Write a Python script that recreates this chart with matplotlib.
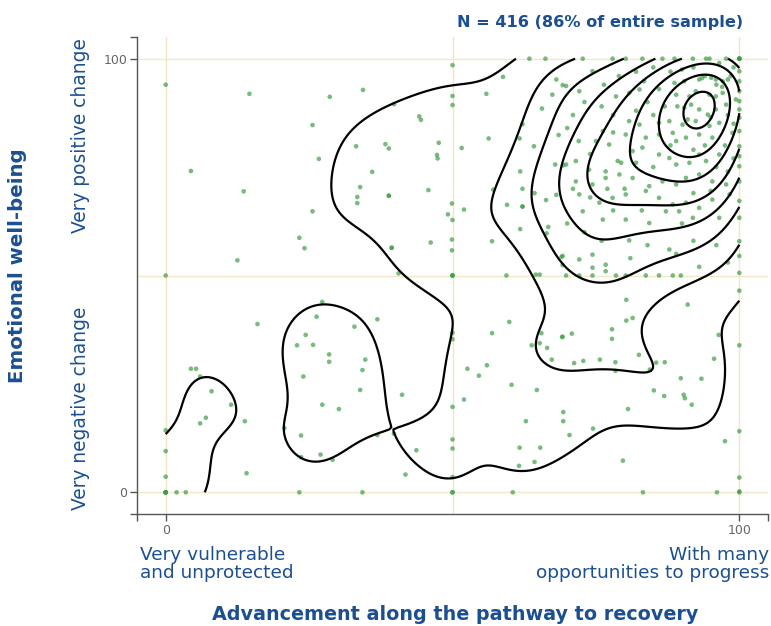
import numpy as np
import matplotlib
matplotlib.use("Agg")
import matplotlib.pyplot as plt

# ---------------- data (x = advancement, y = emotional well-being) ----------
upper_left = [(0, 94), (14.6, 91.9), (28.6, 91.2), (25.6, 84.7), (26.7, 76.9), (4.4, 74.1),
              (13.6, 69.4), (25.6, 64.8), (23.3, 58.7), (24.2, 56.3), (12.5, 53.5), (0, 50)]

upper_mid = [(50, 98.5), (34.4, 92.8), (58.8, 95.8), (55.9, 91.9), (50, 91.4), (50, 89.3),
             (39.8, 89.5), (44.2, 86.7), (44.5, 85.9), (33.2, 79.8), (38.3, 80.3), (38.9, 79.3),
             (47.6, 80.6), (51.6, 79.4), (47.3, 77.8), (47.4, 77.0), (56.3, 81.6), (36.0, 73.9),
             (33.9, 70.4), (33.4, 68.1), (33.4, 66.7), (38.9, 68.4), (38.9, 68.4), (45.8, 69.7),
             (57.1, 69.8), (49.9, 66.6), (52.0, 65.2), (49.2, 64.1), (50, 62.8), (59.5, 66.3),
             (62.2, 65.9), (62.2, 65.9), (61.8, 60.7), (56.9, 57.9), (46.2, 57.6), (39.4, 56.4),
             (39.4, 56.4), (49.9, 58.3), (49.9, 55.8), (40.6, 50.5), (50, 50), (50, 50), (50, 50),
             (59.4, 50), (64.5, 50.2), (65.2, 50.2), (63.4, 100), (66.2, 100), (68.1, 95.2),
             (69.2, 93.9), (67.4, 91.7), (65.6, 88.5), (62.2, 84.9), (61.7, 81.6), (64.2, 79.8),
             (68.5, 82.4), (61.8, 74.0), (62.2, 70.0), (64.3, 69.0), (67.9, 75.6), (69.3, 75.4),
             (68.1, 68.6), (66.3, 67.4), (66.7, 61.2), (66.4, 59.7), (69.0, 54.3), (69.2, 52.4)]

upper_right = [(72.7, 100), (77.9, 100), (80.2, 100), (83.1, 100), (86.6, 100), (88.7, 100),
               (91.9, 100), (94.2, 100), (94.8, 100), (97.7, 100), (100, 100), (100, 100),
               (100, 100), (100, 100),
               (69.8, 93.7), (72.1, 92.5), (74.4, 97.1), (76.4, 94.0), (78.5, 91.3), (80.8, 92.1),
               (82.6, 92.9), (83.4, 94.8), (88.7, 94.4), (90.4, 94.8), (93.0, 95.2), (95.1, 95.6),
               (95.9, 95.2), (97.1, 94.8), (98.0, 95.2), (89.0, 91.7), (91.3, 91.3), (92.4, 92.5),
               (94.8, 91.7), (95.9, 91.3), (97.1, 92.1), (89.2, 89.0), (90.4, 88.7), (91.6, 89.4),
               (93.0, 88.3), (94.5, 87.1), (95.9, 88.3), (97.7, 89.4), (99.4, 90.6), (100, 88.3),
               (100, 86.4), (80.8, 85.6), (82.6, 84.8), (86.0, 85.2), (87.8, 85.6), (90.1, 84.8),
               (92.4, 85.6), (94.8, 84.5), (96.5, 85.2), (80.2, 82.5), (83.7, 81.8), (86.0, 82.5),
               (88.4, 82.9), (89.0, 81.0), (90.7, 81.8), (93.0, 82.5), (95.3, 81.8), (98.8, 82.9),
               (100, 83.3), (76.2, 83.3), (75.0, 81.0), (77.3, 80.2), (78.8, 76.4), (79.4, 76.0),
               (81.4, 78.7), (83.1, 79.5), (86.0, 77.9), (87.8, 77.1), (89.0, 75.6), (91.3, 76.0),
               (93.0, 77.9), (94.2, 76.4), (96.5, 77.9), (100, 79.8), (100, 75.2), (69.8, 75.6),
               (71.5, 76.4), (73.8, 74.4), (76.7, 74.0), (71.5, 71.7), (74.4, 71.0), (76.7, 72.5),
               (79.1, 73.3), (81.4, 72.5), (84.3, 70.6), (86.6, 71.7), (89.0, 71.0), (90.7, 72.5),
               (93.0, 73.3), (95.3, 71.7), (97.7, 71.0), (100, 71.7), (72.1, 68.7), (75.6, 66.8),
               (77.9, 67.9), (80.2, 68.7), (83.7, 69.5), (86.0, 67.9), (88.4, 66.4), (90.7, 66.8),
               (93.0, 65.6), (95.3, 67.5), (98.3, 68.7), (100, 67.2), (72.7, 64.8), (76.2, 62.9),
               (80.2, 62.9), (84.3, 62.1), (87.2, 64.8), (89.5, 64.8), (91.9, 63.3), (96.5, 63.3),
               (100, 63.3), (80.8, 58.1), (87.8, 56.0), (100, 57.9), (69.2, 54.5), (72.1, 53.7),
               (74.4, 54.8), (76.7, 52.5), (74.4, 51.8), (69.8, 50), (72.1, 50), (74.4, 50),
               (76.7, 51), (78.5, 50), (80.2, 50), (83.7, 50), (86.0, 50), (88.4, 50), (89.8, 50),
               (100, 50.6), (100, 54.5), (100, 97.1), (100, 94.8), (100, 92.5), (100, 90.2),
               (100, 77.5)]

upper_right_dense = [(93.5, 95.5), (96, 94), (97, 93.5), (94, 96), (98.5, 96), (99, 98),
                     (96.5, 99), (92, 98), (85, 98), (88, 97), (90, 97.5), (82, 97), (79, 96),
                     (86, 93), (84, 90), (87, 89), (82, 88), (78, 87), (76, 89), (73, 90),
                     (71, 87), (70, 84), (72, 81), (74, 78), (78, 83), (85, 87), (91, 86),
                     (95, 86.5), (98, 87), (99, 85), (97.5, 80), (99, 77), (98, 74), (96, 75),
                     (92, 79), (94, 80), (88, 80), (85, 75), (82, 76), (80, 70), (77, 70),
                     (74, 68), (71, 70), (92, 69), (95, 69.5), (90, 62), (83, 65), (78, 65),
                     (73, 60), (70, 62), (76, 58), (84, 57), (92, 58), (96, 57), (98, 53),
                     (93, 52), (89, 55), (81, 54)]

lower_left = [(27.3, 43.9), (26.3, 40.5), (16.0, 38.8), (24.4, 36.3), (22.9, 33.9), (25.7, 34.0),
              (28.5, 31.8), (28.5, 30.1), (4.4, 28.5), (5.3, 28.5), (6.0, 26.7), (24.0, 26.7),
              (8.0, 23.3), (11.4, 20.2), (27.3, 20.2), (30.2, 19.2), (7.0, 17.2), (6.0, 15.9),
              (13.8, 16.4), (20.7, 14.8), (23.6, 13.1), (0, 14.3), (0, 9.5), (0, 3.6), (0, 0),
              (0, 0), (0, 0), (0, 0), (0, 0), (1.9, 0), (3.5, 0), (23.6, 8.1), (27.0, 8.7),
              (29.1, 7.5), (14.1, 4.4), (23.3, 0)]

lower_mid = [(36.9, 39.9), (32.9, 38.2), (34.8, 30.6), (34.3, 28.2), (33.9, 23.6), (41.2, 22.5),
             (36.9, 13.2), (39.8, 13.5), (43.7, 9.7), (41.8, 4.1), (34.3, 0), (50, 36.8),
             (50, 35.3), (50, 19.7), (50, 12.2), (50, 10.1), (50, 3.5), (50, 0), (50, 0),
             (59.9, 39.3), (56.9, 36.7), (65.5, 36.7), (63.8, 33.9), (65.2, 34.4), (66.5, 33.3),
             (67.3, 30.6), (69.1, 35.8), (52.6, 28.5), (56.0, 29.3), (54.6, 26.9), (60.3, 24.8),
             (64.7, 23.6), (52.0, 21.4), (62.8, 16.4), (69.3, 18.5), (69.3, 16.4), (61.7, 10.3),
             (65.3, 10.3), (61.6, 6.1), (64.3, 7.0), (60.5, 0)]

lower_right = [(80.3, 44.4), (91.0, 43.3), (80.3, 39.6), (81.4, 40.2), (77.8, 37.6), (77.8, 35.4),
               (69.2, 35.9), (70.8, 36.6), (96.4, 36.3), (100, 46.5), (100, 33.9), (95.6, 30.8),
               (82.5, 31.7), (71.2, 29.8), (72.8, 30.3), (75.7, 30.6), (78.4, 30.0), (78.4, 28.0),
               (84.4, 28.3), (85.5, 29.9), (87.0, 30.0), (89.8, 26.3), (93.4, 26.2), (85.1, 23.5),
               (86.9, 22.2), (90.3, 22.5), (90.5, 21.7), (91.7, 20.2), (80.6, 19.2), (70.4, 13.2),
               (74.5, 14.7), (79.7, 7.3), (97.5, 11.8), (100, 14.1), (100, 3.4), (100, 0.2),
               (100, 0), (83.2, 0), (96.1, 0)]

x_ticks = [-5, 0, 100, 105]
x_tick_labels = ["", "0", "100", ""]
y_ticks = [-5, 0, 100, 105]
y_tick_labels = ["", "0", "100", ""]
grid_positions = [0, 50, 100]

title_text = "N = 416 (86% of entire sample)"
x_title = "Advancement along the pathway to recovery"
y_title = "Emotional well-being"
x_low_label = "Very vulnerable\nand unprotected"
x_high_label = "With many\nopportunities to progress"
y_low_label = "Very negative change"
y_high_label = "Very positive change"

# ---------------- assemble ------------------------------------------------
pts = np.array(upper_left + upper_mid + upper_right + upper_right_dense +
               lower_left + lower_mid + lower_right, dtype=float)
px, py = pts[:, 0], pts[:, 1]

# Gaussian kernel density estimate over the data range
hx, hy = 6.0, 8.0
gx = np.linspace(0, 100, 201)
gy = np.linspace(0, 100, 201)
GX, GY = np.meshgrid(gx, gy)
Z = np.zeros_like(GX)
for xi, yi in zip(px, py):
    Z += np.exp(-((GX - xi) ** 2) / (2 * hx ** 2) - ((GY - yi) ** 2) / (2 * hy ** 2))
Z /= (2 * np.pi * hx * hy * len(px))
step = Z.max() / 8.3
levels = step * np.arange(1, 9)

# ---------------- draw ------------------------------------------------------
BLUE = "#1b4f91"
fig = plt.figure(figsize=(7.71, 6.26), dpi=100)
ax = fig.add_axes([137 / 771, 1 - 514 / 626, (768 - 137) / 771, (514 - 37) / 626])
ax.set_xlim(-5, 105)
ax.set_ylim(-5, 105)

for g in grid_positions:
    ax.axvline(g, color="#f1e6c4", lw=1.0, zorder=0)
    ax.axhline(g, color="#f1e9c8", lw=1.0, zorder=0)

ax.scatter(px, py, s=11, color="#3f9e44", alpha=0.7, edgecolors="none", zorder=2)
ax.contour(GX, GY, Z, levels=levels, colors="black", linewidths=1.6, zorder=3)

for side in ["top", "right"]:
    ax.spines[side].set_visible(False)
for side in ["left", "bottom"]:
    ax.spines[side].set_color("#555555")
    ax.spines[side].set_linewidth(1.0)

ax.set_xticks(x_ticks)
ax.set_xticklabels(x_tick_labels)
ax.set_yticks(y_ticks)
ax.set_yticklabels(y_tick_labels)
ax.tick_params(axis="both", colors="#555555", labelcolor="#666666", labelsize=9,
               length=5, width=1.0, direction="out", pad=2)

font = "DejaVu Sans"
fig.text(743 / 771, 1 - 22 / 626, title_text, ha="right", va="center", color=BLUE,
         fontsize=11.6, fontweight="semibold", family=font)
fig.text(455 / 771, 1 - 614 / 626, x_title, ha="center", va="center", color=BLUE,
         fontsize=13.8, fontweight="bold", family=font)
fig.text(140 / 771, 1 - 564 / 626, x_low_label, ha="left", va="center", color=BLUE,
         fontsize=13.3, family=font, linespacing=0.95)
fig.text(769 / 771, 1 - 564 / 626, x_high_label, ha="right", va="center", color=BLUE,
         fontsize=13.3, family=font, linespacing=0.95, multialignment="right")
fig.text(18 / 771, 1 - 266 / 626, y_title, ha="center", va="center", rotation=90,
         color=BLUE, fontsize=14.2, fontweight="bold", family=font)
fig.text(80 / 771, 1 - 136 / 626, y_high_label, ha="center", va="center", rotation=90,
         color=BLUE, fontsize=13.4, family=font)
fig.text(80 / 771, 1 - 408 / 626, y_low_label, ha="center", va="center", rotation=90,
         color=BLUE, fontsize=13.4, family=font)

fig.savefig("out.png", dpi=100, facecolor="white")
